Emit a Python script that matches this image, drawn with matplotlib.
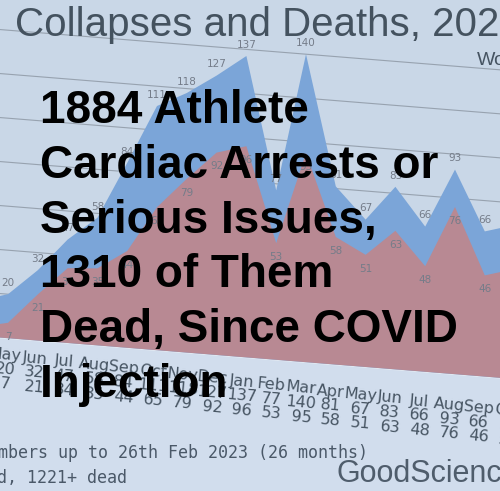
import numpy as np
import matplotlib
matplotlib.use('Agg')
import matplotlib.pyplot as plt
import matplotlib.transforms as mtransforms

# ---- data (Apr 2021 .. Oct 2022; first / last month sit outside the crop) ----
months = ['Apr', 'May', 'Jun', 'Jul', 'Aug', 'Sep', 'Oct', 'Nov', 'Dec', 'Jan',
          'Feb', 'Mar', 'Apr', 'May', 'Jun', 'Jul', 'Aug', 'Sep', 'Oct']
total = [16, 20, 32, 47, 58, 84, 111, 118, 127, 137, 77, 140, 81, 67, 83, 66, 93, 66, 70]
dead = [4, 7, 21, 34, 35, 44, 65, 79, 92, 96, 53, 95, 58, 51, 63, 48, 76, 46, 50]
grid_values = [20, 40, 60, 80, 100, 120, 140]

title = 'Collapses and Deaths, 2021-2023'
subtitle = 'Worldwide'
note1 = 'Numbers up to 26th Feb 2023 (26 months)'
note2 = 'Totals: 1884+ collapsed, 1221+ dead'
site = 'GoodSciencing.com'
headline = ['1884 Athlete', 'Cardiac Arrests or', 'Serious Issues,',
            '1310 of Them', 'Dead, Since COVID', 'Injection']

# ---- colours ----
bg = '#c9d7e7'
table_bg = '#d1dded'
blue = '#7ba5d8'
red = '#b88993'
grid_c = '#97a2af'
lab_c = '#747c89'
txt_c = '#465462'

fig = plt.figure(figsize=(5, 4.91), dpi=100, facecolor=bg)
ax = fig.add_axes([0, 0, 1, 1])
ax.set_xlim(0, 500)
ax.set_ylim(491, 0)
ax.axis('off')

# photo of a screen: chart is tilted, so map (month, value) through an affine
chart_tr = mtransforms.Affine2D(np.array([[29.8, 0.0, -21.8],
                                          [2.4, -2.2, 335.8],
                                          [0.0, 0.0, 1.0]])) + ax.transData
table_tr = mtransforms.Affine2D(np.array([[29.6, 0.0, -24.6],
                                          [3.3, 14.5, 351.7],
                                          [0.0, 0.0, 1.0]])) + ax.transData

x = np.arange(len(months))

# area below plot (table zone)
ax.fill_between([-2, len(months) + 2], -90, 0, color=table_bg, transform=chart_tr, lw=0, zorder=0)
ax.plot([-2, len(months) + 2], [0, 0], color='#e4ebf3', lw=1.2, transform=chart_tr, zorder=1)

# ---- gridlines ----
for g in grid_values:
    ax.plot([-2, len(months) + 2], [g, g], color=grid_c, lw=0.8, transform=chart_tr, zorder=1)

# ---- areas ----
ax.fill_between(x, total, 0, color=blue, lw=0, transform=chart_tr, zorder=2)
ax.fill_between(x, dead, 0, color=red, lw=0, transform=chart_tr, zorder=3)

# ---- data labels ----
for i in x:
    ax.annotate(str(total[i]), xy=(i, total[i]), xycoords=chart_tr, xytext=(0, 8),
                textcoords='offset points', ha='center', va='center',
                fontsize=7.5, color=lab_c, zorder=4)
    ax.annotate(str(dead[i]), xy=(i, dead[i]), xycoords=chart_tr, xytext=(0, -10),
                textcoords='offset points', ha='center', va='center',
                fontsize=7.5, color=lab_c, zorder=4)

# ---- data table under the chart ----
for i in x:
    for row, s in enumerate([months[i], str(total[i]), str(dead[i])]):
        ax.text(i, row, s, transform=table_tr, ha='center', va='center',
                rotation=-5, rotation_mode='anchor', fontsize=11.5,
                family=['Liberation Sans Narrow', 'DejaVu Sans'], color=txt_c, zorder=5)

# ---- titles / notes ----
ax.text(15, 36, title, fontsize=29, family='Liberation Sans', color='#44525f', va='baseline', zorder=5)
ax.text(477, 65, subtitle, fontsize=14, family='Liberation Sans', color=txt_c, va='baseline', zorder=5)
ax.text(368, 458, note1, fontsize=12, family='DejaVu Sans Mono', color='#4a5868', ha='right', va='baseline', zorder=5)
ax.text(127, 483, note2, fontsize=12, family='DejaVu Sans Mono', color='#4a5868', ha='right', va='baseline', zorder=5)
ax.text(337, 482, site, fontsize=22, family='Liberation Sans', color='#4f5d6c', va='baseline', zorder=5)

# ---- overlaid headline ----
for k, line in enumerate(headline):
    ax.text(40, 123 + 54.8 * k, line, fontsize=33, family='Liberation Sans',
            fontweight='bold', color='black', va='baseline', zorder=10)

fig.savefig('out.png', dpi=100, facecolor=bg)
